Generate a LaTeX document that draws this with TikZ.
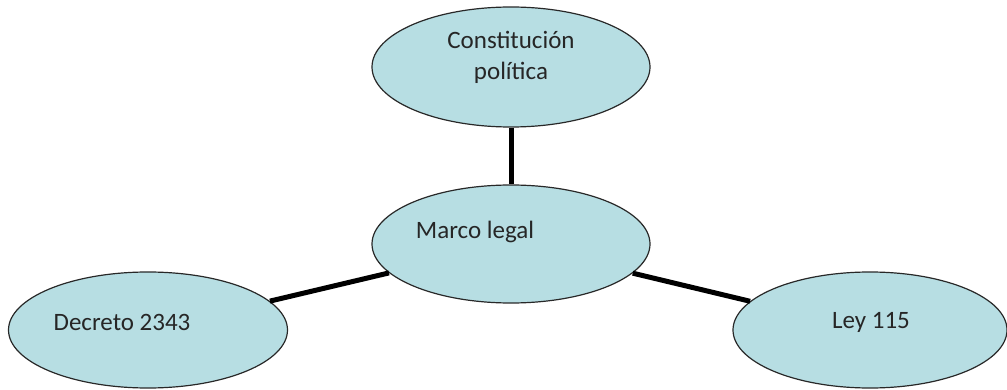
\documentclass[tikz,border=0pt]{standalone}
\usepackage{fontspec}
\setmainfont{Carlito}
\usetikzlibrary{shapes.geometric}
\definecolor{bubble}{RGB}{183,222,227}
\definecolor{rim}{RGB}{40,40,40}
\tikzset{
  bubble/.style={ellipse, draw=rim, line width=1.2pt, fill=bubble, inner sep=0pt},
  txt/.style={font=\fontsize{25}{31}\selectfont, text=black!85, align=center},
  link/.style={line width=5pt, black}
}
\begin{document}
\begin{tikzpicture}[x=1pt,y=-1pt]
\useasboundingbox (0,0) rectangle (1007,390);
\node[bubble, minimum width=278pt, minimum height=120pt,
  label={[txt, yshift=10pt]center:Constitución\\política}] (const) at (511,67) {};
\node[bubble, minimum width=278pt, minimum height=118pt,
  label={[txt, xshift=-36pt, yshift=12pt]center:Marco legal}] (marco) at (511,244) {};
\node[bubble, minimum width=279pt, minimum height=116pt,
  label={[txt, xshift=-26pt, yshift=8pt]center:Decreto 2343}] (decreto) at (148,330) {};
\node[bubble, minimum width=274pt, minimum height=116pt,
  label={[txt, xshift=1pt, yshift=8pt]center:Ley 115}] (ley) at (870,330) {};
\draw[link] (const) -- (marco);
\draw[link] (marco) -- (decreto);
\draw[link] (marco) -- (ley);
\end{tikzpicture}
\end{document}
